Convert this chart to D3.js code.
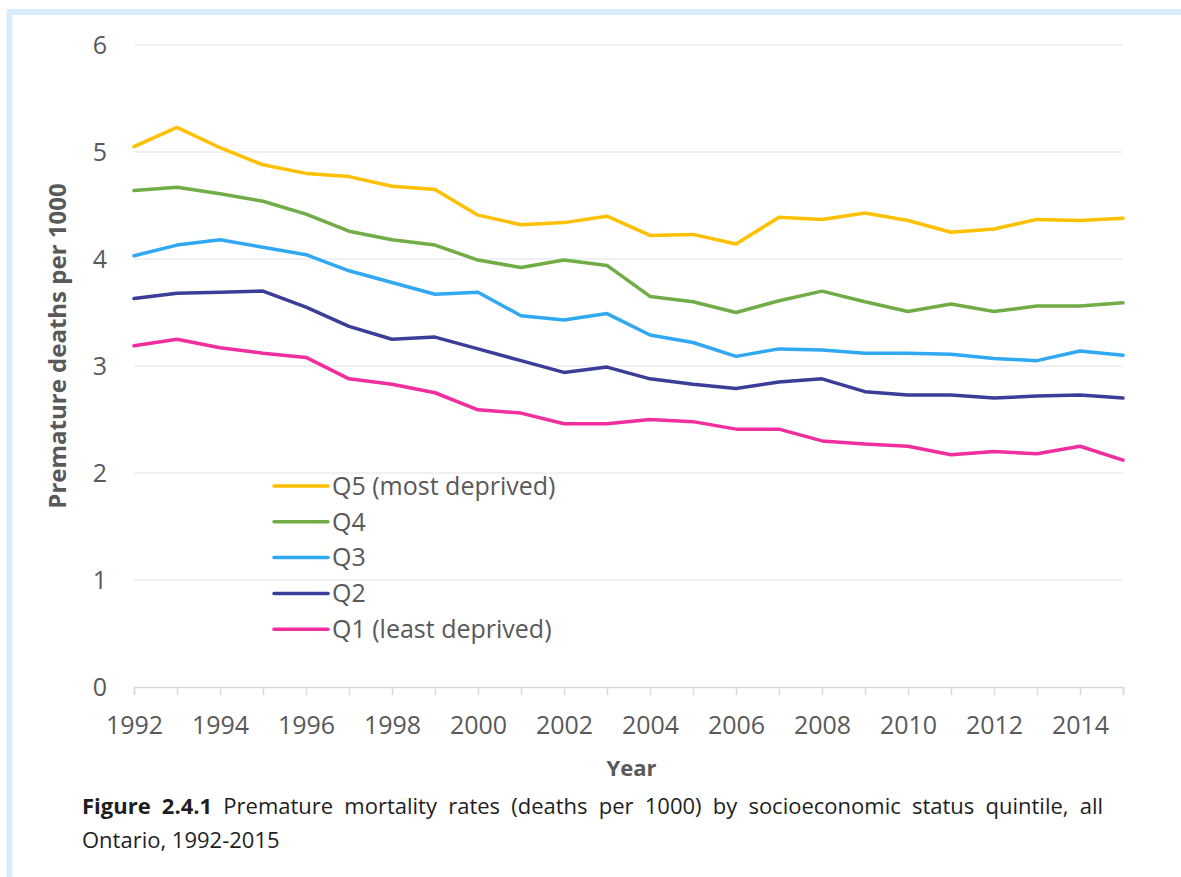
<!DOCTYPE html>
<html>
<head>
<meta charset="utf-8">
<script src="https://cdn.jsdelivr.net/npm/d3@7"></script>
<style>
  html, body { margin: 0; padding: 0; background: #fff; }
  svg { display: block; font-family: "Open Sans", "Noto Sans", sans-serif; }
</style>
</head>
<body>
<svg id="chart" width="1181" height="877"></svg>
<script>
// Premature deaths per 1000, by socioeconomic status quintile, Ontario
const years = [1992, 1993, 1994, 1995, 1996, 1997, 1998, 1999, 2000, 2001, 2002, 2003,
               2004, 2005, 2006, 2007, 2008, 2009, 2010, 2011, 2012, 2013, 2014, 2015];
const q5 = [5.05, 5.23, 5.04, 4.88, 4.80, 4.77, 4.68, 4.65, 4.41, 4.32, 4.34, 4.40,
            4.22, 4.23, 4.14, 4.39, 4.37, 4.43, 4.36, 4.25, 4.28, 4.37, 4.36, 4.38];
const q4 = [4.64, 4.67, 4.61, 4.54, 4.42, 4.26, 4.18, 4.13, 3.99, 3.92, 3.99, 3.94,
            3.65, 3.60, 3.50, 3.61, 3.70, 3.60, 3.51, 3.58, 3.51, 3.56, 3.56, 3.59];
const q3 = [4.03, 4.13, 4.18, 4.11, 4.04, 3.89, 3.78, 3.67, 3.69, 3.47, 3.43, 3.49,
            3.29, 3.22, 3.09, 3.16, 3.15, 3.12, 3.12, 3.11, 3.07, 3.05, 3.14, 3.10];
const q2 = [3.63, 3.68, 3.69, 3.70, 3.55, 3.37, 3.25, 3.27, 3.16, 3.05, 2.94, 2.99,
            2.88, 2.83, 2.79, 2.85, 2.88, 2.76, 2.73, 2.73, 2.70, 2.72, 2.73, 2.70];
const q1 = [3.19, 3.25, 3.17, 3.12, 3.08, 2.88, 2.83, 2.75, 2.59, 2.56, 2.46, 2.46,
            2.50, 2.48, 2.41, 2.41, 2.30, 2.27, 2.25, 2.17, 2.20, 2.18, 2.25, 2.12];
const seriesNames = ["Q5 (most deprived)", "Q4", "Q3", "Q2", "Q1 (least deprived)"];
const seriesValues = [q5, q4, q3, q2, q1];
const seriesColors = ["#FFC000", "#70AD47", "#30A8F2", "#3A3E98", "#F02E9E"];
const yTicks = [0, 1, 2, 3, 4, 5, 6];
const yTitle = "Premature deaths per 1000";
const xTitle = "Year";
const captionBold = "Figure 2.4.1";
const captionLine1 = " Premature mortality rates (deaths per 1000) by socioeconomic status quintile, all";
const captionLine2 = "Ontario, 1992-2015";

const svg = d3.select("#chart");

// light blue frame around the figure
svg.append("path")
  .attr("d", "M9.5,1000 V12 H1300")
  .attr("fill", "none")
  .attr("stroke", "#D6EBFB")
  .attr("stroke-width", 6);

const plotLeft = 134, plotRight = 1123, plotTop = 45, plotBottom = 687;
const x = d3.scaleLinear().domain([years[0], years[years.length - 1]]).range([plotLeft, plotRight]);
const y = d3.scaleLinear().domain([0, 6]).range([plotBottom, plotTop]);

// horizontal gridlines
svg.append("g")
  .selectAll("line")
  .data(yTicks.filter(d => d > 0))
  .join("line")
  .attr("x1", plotLeft).attr("x2", plotRight)
  .attr("y1", d => y(d)).attr("y2", d => y(d))
  .attr("stroke", "#EDEDED")
  .attr("stroke-width", 1.5);

// y axis labels
const yAxis = svg.append("g")
  .attr("transform", `translate(${plotLeft},0)`)
  .call(d3.axisLeft(y).tickValues(yTicks).tickSize(0).tickPadding(27).tickFormat(d3.format("d")));
yAxis.select(".domain").remove();
yAxis.selectAll("text")
  .attr("font-family", "'Open Sans', sans-serif")
  .attr("font-size", 25)
  .attr("fill", "#595959");

// x axis with a tick every year, labels every second year
const xAxis = svg.append("g")
  .attr("transform", `translate(0,${plotBottom})`)
  .call(d3.axisBottom(x).tickValues(years).tickSize(8).tickPadding(21)
    .tickFormat(d => (d % 2 === 0 ? String(d) : "")));
xAxis.select(".domain").attr("stroke", "#D9D9D9").attr("stroke-width", 1.5);
xAxis.selectAll(".tick line").attr("stroke", "#D9D9D9").attr("stroke-width", 1.5);
xAxis.selectAll("text")
  .attr("font-family", "'Open Sans', sans-serif")
  .attr("font-size", 25)
  .attr("fill", "#595959");

// axis titles
svg.append("text")
  .attr("transform", `translate(66,346) rotate(-90)`)
  .attr("text-anchor", "middle")
  .attr("font-size", 24)
  .attr("font-weight", "bold")
  .attr("fill", "#595959")
  .text(yTitle);

svg.append("text")
  .attr("x", (plotLeft + plotRight) / 2 + 3)
  .attr("y", 776)
  .attr("text-anchor", "middle")
  .attr("font-size", 22)
  .attr("font-weight", "bold")
  .attr("fill", "#595959")
  .text(xTitle);

// series lines
const line = d3.line()
  .x((d, i) => x(years[i]))
  .y(d => y(d));

svg.append("g")
  .selectAll("path")
  .data(seriesValues)
  .join("path")
  .attr("d", d => line(d))
  .attr("fill", "none")
  .attr("stroke", (d, i) => seriesColors[i])
  .attr("stroke-width", 3.5)
  .attr("stroke-linejoin", "round")
  .attr("stroke-linecap", "round");

// legend
const legend = svg.append("g").attr("transform", "translate(274,486)");
const rows = legend.selectAll("g")
  .data(seriesNames)
  .join("g")
  .attr("transform", (d, i) => `translate(0,${i * 35.8})`);
rows.append("line")
  .attr("x1", 0).attr("x2", 54)
  .attr("y1", 0).attr("y2", 0)
  .attr("stroke", (d, i) => seriesColors[i])
  .attr("stroke-width", 3.5)
  .attr("stroke-linecap", "round");
rows.append("text")
  .attr("x", 58)
  .attr("y", 0)
  .attr("dy", "0.35em")
  .attr("font-size", 25)
  .attr("fill", "#595959")
  .text(d => d);

// caption, first line justified to the text block width
const capLeft = 82, capRight = 1103;
const cap1 = svg.append("text")
  .attr("x", capLeft)
  .attr("y", 814)
  .attr("font-size", 22)
  .attr("fill", "#1E1E1E");
cap1.append("tspan").attr("font-weight", "bold").text(captionBold);
cap1.append("tspan").text(captionLine1);
const natural = cap1.node().getComputedTextLength();
const spaces = (captionBold + captionLine1).split(" ").length - 1;
cap1.attr("word-spacing", (capRight - capLeft - natural) / spaces);

svg.append("text")
  .attr("x", capLeft)
  .attr("y", 848)
  .attr("font-size", 22)
  .attr("fill", "#1E1E1E")
  .text(captionLine2);
</script>
</body>
</html>
